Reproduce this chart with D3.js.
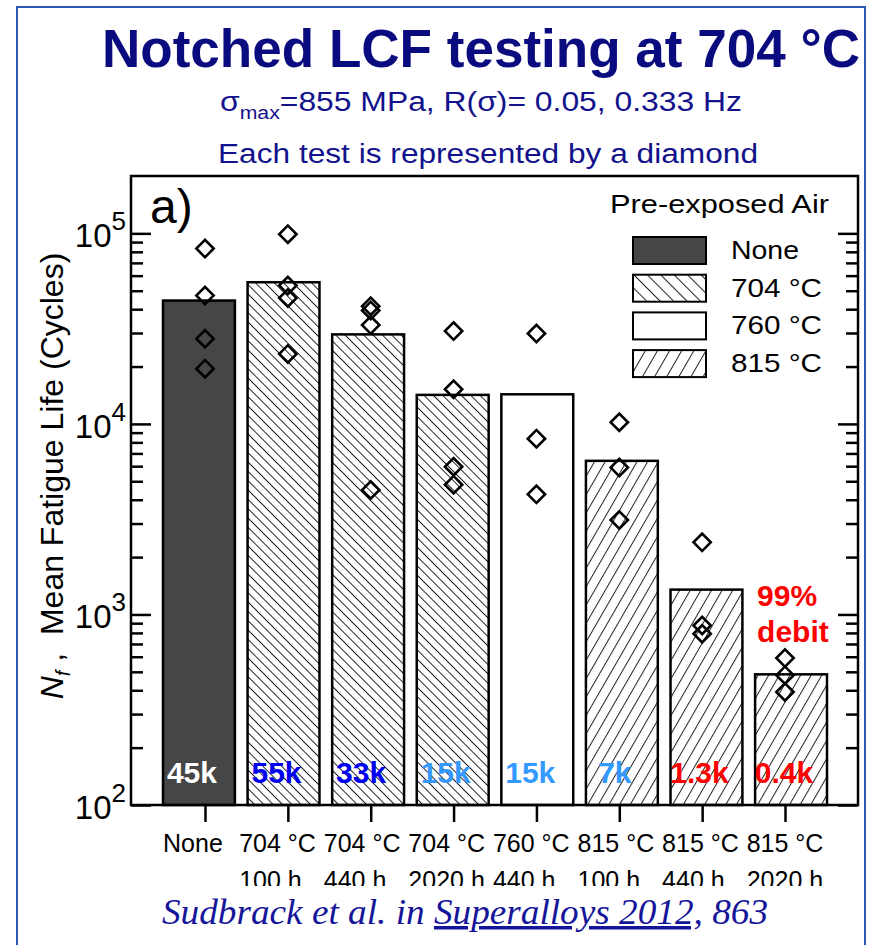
<!DOCTYPE html>
<html>
<head>
<meta charset="utf-8">
<script src="https://cdn.jsdelivr.net/npm/d3@7"></script>
<style>
  body { margin: 0; background: #fff; }
  svg text { font-family: "Liberation Sans", Arial, sans-serif; }
</style>
</head>
<body>
<div id="viz"></div>
<script>
// data
var tickLine1 = ["None", "704 °C", "704 °C", "704 °C", "760 °C", "815 °C", "815 °C", "815 °C"];
var tickLine2 = ["", "100 h", "440 h", "2020 h", "440 h", "100 h", "440 h", "2020 h"];
var exposure = ["None", "704 °C", "704 °C", "704 °C", "760 °C", "815 °C", "815 °C", "815 °C"];
var meanLife = [44400, 55400, 29500, 14200, 14300, 6400, 1350, 485];
var tests = [
  [83200, 47200, 28000, 19500],
  [99000, 53200, 45800, 23300],
  [41500, 39400, 33000, 4500],
  [30700, 15200, 5960, 4800],
  [29800, 8370, 4270],
  [10200, 5900, 3130],
  [2390, 875, 792],
  [590, 480, 392]
];
var valueLabels = ["45k", "55k", "33k", "15k", "15k", "7k", "1.3k", "0.4k"];
var legendNames = ["None", "704 °C", "760 °C", "815 °C"];
var decades = [100, 1000, 10000, 100000];

var labelColors = ["#ffffff", "#0000f0", "#0000f0", "#3399ff", "#3399ff", "#3399ff", "#ff0000", "#ff0000"];
var navy = "#0b0b80";

var width = 881,
    height = 945;
var plot = {left: 131, right: 858, top: 176, bottom: 805};

var svg = d3.select("#viz").append("svg")
    .attr("width", width)
    .attr("height", height);

var defs = svg.append("defs");

function hatch(id, spacing, angle) {
  var p = defs.append("pattern")
      .attr("id", id)
      .attr("patternUnits", "userSpaceOnUse")
      .attr("width", spacing)
      .attr("height", spacing)
      .attr("patternTransform", "rotate(" + angle + ")");
  p.append("rect").attr("width", spacing).attr("height", spacing).attr("fill", "#fff");
  p.append("line")
      .attr("x1", 0.5).attr("y1", 0).attr("x2", 0.5).attr("y2", spacing)
      .attr("stroke", "#222").attr("stroke-width", 1);
}
hatch("h704", 6.6, -45);
hatch("h815", 9.2, 30);
hatch("h704leg", 9.5, -45);
hatch("h815leg", 10.5, 30);

function fillFor(name, legend) {
  if (name == "None") return "#464646";
  if (name == "704 °C") return legend ? "url(#h704leg)" : "url(#h704)";
  if (name == "815 °C") return legend ? "url(#h815leg)" : "url(#h815)";
  return "#fff";
}

// outer blue frame
svg.append("rect")
    .attr("x", 17).attr("y", 7)
    .attr("width", 848).attr("height", 980)
    .attr("fill", "none")
    .attr("stroke", "#2a58b0")
    .attr("stroke-width", 2);

// titles
svg.append("text")
    .attr("x", 102).attr("y", 67)
    .attr("font-size", 54).attr("font-weight", "bold")
    .attr("fill", navy)
    .attr("textLength", 758).attr("lengthAdjust", "spacingAndGlyphs")
    .text("Notched LCF testing at 704 °C");

var sub = svg.append("text")
    .attr("x", 220).attr("y", 111)
    .attr("font-size", 27)
    .attr("fill", "#12128c")
    .attr("textLength", 522).attr("lengthAdjust", "spacingAndGlyphs");
sub.append("tspan").text("σ");
sub.append("tspan").attr("dy", 8).attr("font-size", 18).text("max");
sub.append("tspan").attr("dy", -8).text("=855 MPa, R(σ)= 0.05, 0.333 Hz");

svg.append("text")
    .attr("x", 218).attr("y", 163)
    .attr("font-size", 27)
    .attr("fill", "#12128c")
    .attr("textLength", 540).attr("lengthAdjust", "spacingAndGlyphs")
    .text("Each test is represented by a diamond");

// scales
var idx = d3.range(tickLine1.length);

var xBar = d3.scaleBand()
    .domain(idx)
    .range([163, 827])
    .paddingInner(0.15)
    .paddingOuter(0);

var xTick = d3.scalePoint()
    .domain(idx)
    .range([plot.left + 74, plot.right - 73]);

var y = d3.scaleLog()
    .domain([100, 200000])
    .range([plot.bottom, plot.top]);

// bars
svg.append("g").selectAll("rect")
    .data(meanLife)
  .enter().append("rect")
    .attr("x", function(d, i) { return xBar(i); })
    .attr("y", function(d) { return y(d); })
    .attr("width", xBar.bandwidth())
    .attr("height", function(d) { return y(100) - y(d); })
    .attr("fill", function(d, i) { return fillFor(exposure[i], false); })
    .attr("stroke", "#000")
    .attr("stroke-width", 2.5);

// value labels at the foot of each bar
svg.append("g").selectAll("text")
    .data(valueLabels)
  .enter().append("text")
    .attr("x", function(d, i) { return xBar(i) + xBar.bandwidth() / 2 - 7; })
    .attr("y", plot.bottom - 22)
    .attr("text-anchor", "middle")
    .attr("font-size", 30)
    .attr("font-weight", "bold")
    .attr("fill", function(d, i) { return labelColors[i]; })
    .text(function(d) { return d; });

// one diamond per test
var diamond = d3.symbol().type(d3.symbolSquare).size(150);
var pts = [];
tests.forEach(function(arr, i) {
  arr.forEach(function(v) { pts.push({i: i, v: v}); });
});
svg.append("g").selectAll("path")
    .data(pts)
  .enter().append("path")
    .attr("d", diamond)
    .attr("transform", function(d) {
      return "translate(" + xTick(d.i) + "," + y(d.v) + ") rotate(45)";
    })
    .attr("fill", "none")
    .attr("stroke", "#000")
    .attr("stroke-width", 2.6);

// axes ticks
var minor = [];
decades.forEach(function(d) {
  for (var k = 2; k <= 9; k++) if (d * k < 200000) minor.push(d * k);
});

function styleAxis(g) {
  g.select(".domain").remove();
  g.selectAll(".tick line").attr("stroke", "#000").attr("stroke-width", 2.5);
}

svg.append("g")
    .attr("transform", "translate(" + plot.left + ",0)")
    .call(d3.axisRight(y).tickValues(decades).tickSize(20).tickFormat(""))
    .call(styleAxis);
svg.append("g")
    .attr("transform", "translate(" + plot.left + ",0)")
    .call(d3.axisRight(y).tickValues(minor).tickSize(12).tickFormat(""))
    .call(styleAxis);
svg.append("g")
    .attr("transform", "translate(" + plot.right + ",0)")
    .call(d3.axisLeft(y).tickValues(decades).tickSize(20).tickFormat(""))
    .call(styleAxis);
svg.append("g")
    .attr("transform", "translate(" + plot.right + ",0)")
    .call(d3.axisLeft(y).tickValues(minor).tickSize(12).tickFormat(""))
    .call(styleAxis);
svg.append("g")
    .attr("transform", "translate(0," + plot.bottom + ")")
    .call(d3.axisBottom(xTick).tickSize(17).tickFormat(""))
    .call(styleAxis);

// plot frame
svg.append("rect")
    .attr("x", plot.left).attr("y", plot.top)
    .attr("width", plot.right - plot.left)
    .attr("height", plot.bottom - plot.top)
    .attr("fill", "none")
    .attr("stroke", "#000")
    .attr("stroke-width", 2.5);

// y tick labels 10^n
var yl = svg.append("g").selectAll("text")
    .data(decades)
  .enter().append("text")
    .attr("x", plot.left - 5)
    .attr("y", function(d) { return y(d) + 14; })
    .attr("text-anchor", "end")
    .attr("font-size", 33);
yl.append("tspan").text("10");
yl.append("tspan")
    .attr("dy", -17)
    .attr("font-size", 26)
    .text(function(d) { return Math.round(Math.log10(d)); });

// y axis title
var yt = svg.append("text")
    .attr("transform", "translate(63,476) rotate(-90)")
    .attr("text-anchor", "middle")
    .attr("font-size", 32);
yt.append("tspan").attr("font-style", "italic").text("N");
yt.append("tspan").attr("dy", 7).attr("font-size", 20).attr("font-style", "italic").text("f");
yt.append("tspan").attr("dy", -7).text("\u00a0,\u00a0\u00a0Mean Fatigue Life (Cycles)");

// x tick labels, two lines, second line left aligned with the first
var xl = svg.append("g");
idx.forEach(function(i) {
  var t1 = xl.append("text")
      .attr("x", xBar(i) + xBar.bandwidth() / 2 - 6)
      .attr("y", 852)
      .attr("text-anchor", "middle")
      .attr("font-size", 25)
      .text(tickLine1[i]);
  var bx = t1.node().getBBox().x;
  xl.append("text")
      .attr("x", bx)
      .attr("y", 889)
      .attr("font-size", 25)
      .text(tickLine2[i]);
});

// panel letter
svg.append("text")
    .attr("x", 150).attr("y", 223)
    .attr("font-size", 48)
    .text("a)");

// legend
svg.append("text")
    .attr("x", 829).attr("y", 213)
    .attr("text-anchor", "end")
    .attr("font-size", 25.5)
    .attr("textLength", 219).attr("lengthAdjust", "spacingAndGlyphs")
    .text("Pre-exposed Air");

var leg = svg.append("g").selectAll("g")
    .data(legendNames)
  .enter().append("g")
    .attr("transform", function(d, i) { return "translate(633," + (237 + i * 37.7) + ")"; });
leg.append("rect")
    .attr("width", 73).attr("height", 27)
    .attr("fill", function(d) { return fillFor(d, true); })
    .attr("stroke", "#000")
    .attr("stroke-width", 2);
leg.append("text")
    .attr("x", 98).attr("y", 22)
    .attr("font-size", 25.5)
    .attr("textLength", function(d) { return d == "None" ? 68 : 91; })
    .attr("lengthAdjust", "spacingAndGlyphs")
    .text(function(d) { return d; });

// debit note
var last = meanLife.length - 1;
svg.append("text")
    .attr("x", xBar(last) + 2).attr("y", y(meanLife[last]) - 68)
    .attr("font-size", 30).attr("font-weight", "bold").attr("fill", "#ff0000")
    .text("99%");
svg.append("text")
    .attr("x", xBar(last) + 2).attr("y", y(meanLife[last]) - 32)
    .attr("font-size", 30).attr("font-weight", "bold").attr("fill", "#ff0000")
    .text("debit");

// citation (covers the bottom of the second label line)
svg.append("rect")
    .attr("x", 140).attr("y", 886)
    .attr("width", 715).attr("height", 59)
    .attr("fill", "#fff");

var cite = svg.append("text")
    .attr("x", 162).attr("y", 924)
    .attr("font-size", 35)
    .attr("font-style", "italic")
    .attr("fill", "#15159a")
    .attr("textLength", 606).attr("lengthAdjust", "spacingAndGlyphs")
    .style("font-family", "'Liberation Serif', 'Times New Roman', serif");
cite.append("tspan").text("Sudbrack et al. in ");
cite.append("tspan").style("text-decoration", "underline").text("Superalloys 2012,");
cite.append("tspan").text(" 863");
</script>
</body>
</html>
